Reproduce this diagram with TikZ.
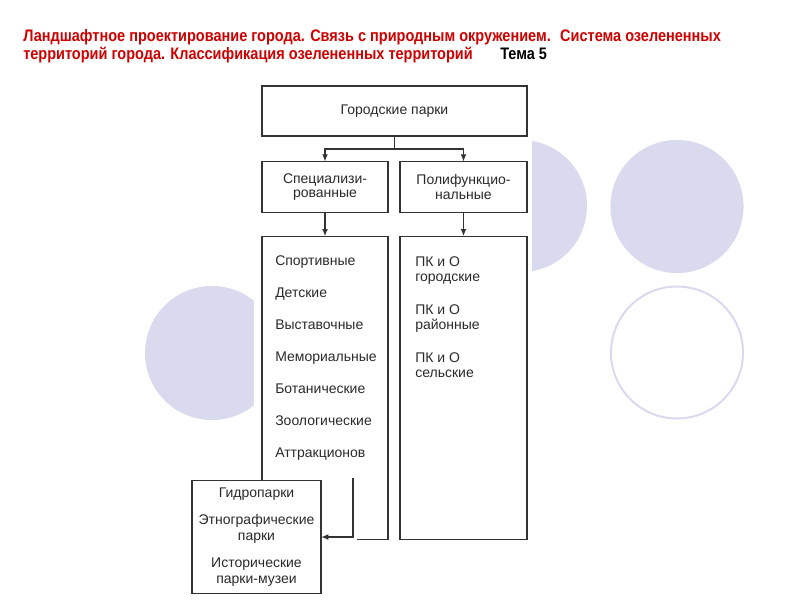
\documentclass[tikz,border=0pt]{standalone}
\usepackage{fontspec}
\setmainfont{Liberation Sans}
\newfontfamily\titlefont[FakeStretch=0.87]{Liberation Sans}
\usepackage{xcolor}
\usetikzlibrary{arrows.meta,positioning}
\definecolor{SlideRed}{HTML}{CC0000}
\definecolor{SlideLilac}{HTML}{DADAEE}
\definecolor{SchemeInk}{HTML}{333333}
\definecolor{SchemeText}{HTML}{2A2A2A}

\begin{document}
\begin{tikzpicture}[x=0.75pt,y=-0.75pt,
  box/.style={draw=SchemeInk,line width=1.1pt,fill=white,align=center,inner sep=0pt,outer sep=0pt,font=\fontsize{10.5}{11}\selectfont,text=SchemeText},
  listtext/.style={align=left,anchor=north west,inner sep=0pt,font=\fontsize{10.5}{11}\selectfont,text=SchemeText},
  edge/.style={-{Latex[length=5.5pt,width=4.4pt]},draw=SchemeInk,line width=1.1pt},
  link/.style={draw=SchemeInk,line width=1.1pt},
  blob/.style={fill=SlideLilac,draw=none},
  ring/.style={draw=SlideLilac,line width=1.5pt}
]
\useasboundingbox[fill=white] (0,0) rectangle (800,600);
% slide decoration
\fill[blob] (212,353) circle[radius=50.25pt];
\fill[blob] (521,206) circle[radius=49.5pt];
\fill[blob] (677,206.5) circle[radius=49.9pt];
\draw[ring] (677,352.5) circle[radius=49.5pt];
\fill[white] (254,130) rectangle (532,430);
% heading
\node[anchor=north west,inner sep=0pt,align=left,text=SlideRed,font=\titlefont\bfseries\fontsize{12.5}{13.5}\selectfont] (heading) at (23,29)
  {Ландшафтное проектирование города. Связь с природным окружением.~ Система озелененных\\территорий города. Классификация озелененных территорий};
\node[anchor=base west,inner sep=0pt,font=\titlefont\bfseries\fontsize{12.5}{13.5}\selectfont] (topic) at (500,59) {Тема 5};
% scheme
\node[box,minimum width=198.75pt,minimum height=37.5pt] (gorod) at (394.5,111) {Городские парки};
\node[box,minimum width=94.5pt,minimum height=38pt] (spec) at (325,187) {Специализи-\\рованные};
\node[box,minimum width=95.25pt,minimum height=38pt,right=9pt of spec] (poly) {Полифункцио-\\нальные};
\node[box,draw=none,fill=none,minimum width=94.5pt,minimum height=227.25pt,below=18pt of spec] (speclist) {};
\node[box,minimum width=95.25pt,minimum height=227.25pt,below=18pt of poly] (polylist) {};
\node[box,minimum width=96.75pt,minimum height=84.75pt,font=\fontsize{10.5}{12}\selectfont] (parks) at (256.5,537)
  {Гидропарки\\[8.25pt]Этнографические\\парки\\[8.25pt]Исторические\\парки-музеи};
\draw[link] (speclist.south west |- parks.north) -- (speclist.north west) -- (speclist.north east)
  -- (speclist.south east) -- ([xshift=-23.25pt]speclist.south east);
\node[listtext] (specnames) at ([xshift=9.75pt,yshift=-14.25pt]speclist.north west)
  {Спортивные\\[13pt]Детские\\[13pt]Выставочные\\[13pt]Мемориальные\\[13pt]Ботанические\\[13pt]Зоологические\\[13pt]Аттракционов};
\node[listtext] (polynames) at ([xshift=11.25pt,yshift=-15pt]polylist.north west)
  {ПК и О\\городские\\[14pt]ПК и О\\районные\\[14pt]ПК и О\\сельские};
\coordinate (fork) at ([yshift=-9.75pt]gorod.south);
\draw[link] (gorod.south) -- (fork);
\draw[edge] (fork) -| (spec.north);
\draw[edge] (fork) -| (poly.north);
\draw[edge] (spec) -- (speclist);
\draw[edge] (poly) -- (polylist);
\coordinate (tail) at (353,478);
\draw[edge] (tail) |- (parks.east);
\end{tikzpicture}
\end{document}
